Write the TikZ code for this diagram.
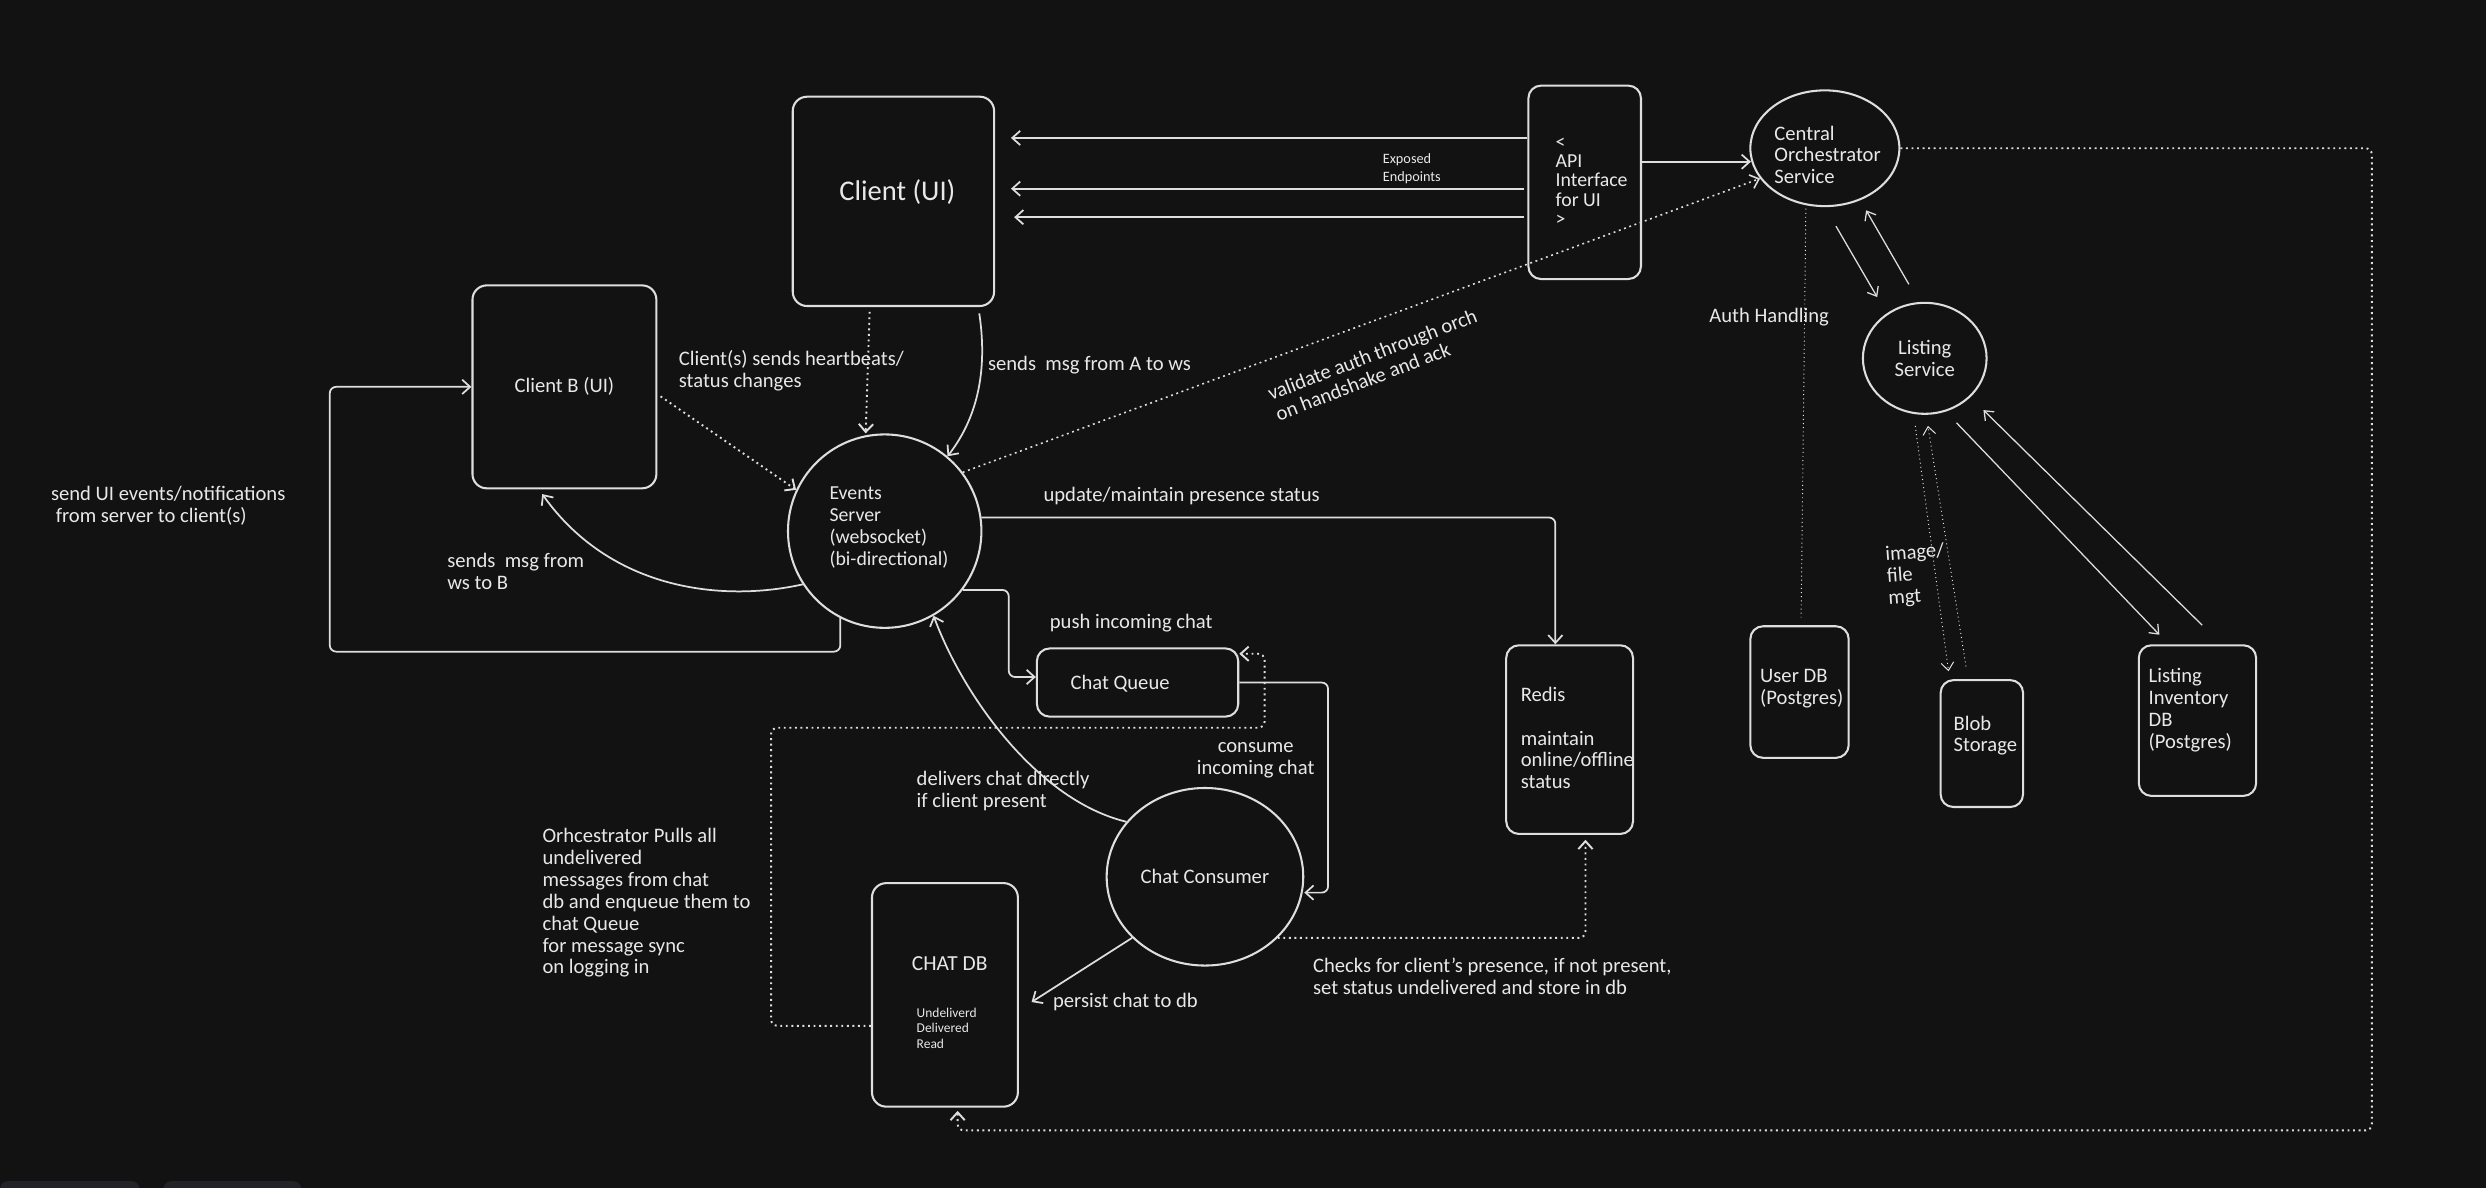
\documentclass[tikz,border=0pt]{standalone}
\usepackage{fontspec}
\setmainfont{Carlito}
\usetikzlibrary{arrows.meta,calc,shapes.geometric}
\definecolor{bgc}{HTML}{121212}
\definecolor{ink}{HTML}{DEDEDE}
\definecolor{txt}{HTML}{E8E8E8}
\definecolor{tabc}{HTML}{232228}
\begin{document}
\begin{tikzpicture}[x=1pt,y=-1pt,
 shp/.style={draw=ink, line width=1.3pt, fill=bgc, inner sep=0pt},
 rbox/.style={shp, rectangle, rounded corners=9pt},
 ell/.style={shp, ellipse},
 ntxt/.style={text=txt, align=center, font=\fontsize{13}{13.8}\selectfont},
 lbl/.style={text=txt, inner sep=0pt, font=\fontsize{13}{13.8}\selectfont, align=left},
 arr/.style={draw=ink, line width=1.1pt, -{Straight Barb[length=5pt,width=9pt]}, rounded corners=4pt},
 dotln/.style={draw=ink, line width=1.2pt, dash pattern=on 1.2pt off 2.3pt},
 darr/.style={dotln, -{Straight Barb[length=5pt,width=9pt]}, rounded corners=4pt},
 thinln/.style={draw=ink!70, line width=0.6pt, dash pattern=on 0.6pt off 2pt},
 tdarr/.style={thinln, -{Straight Barb[length=5pt,width=8pt]}},
 tarr/.style={draw=ink, line width=0.8pt, -{Straight Barb[length=5pt,width=8pt]}},
]
\fill[bgc] (0,0) rectangle (1568,749);
\useasboundingbox (0,0) rectangle (1568,749);
\fill[tabc, rounded corners=5pt] (0,745) rectangle (88,762);
\fill[tabc, rounded corners=5pt] (103,745) rectangle (190,762);

% nodes
\node[rbox, minimum width=127pt, minimum height=132pt] (clientA) at (563.5,127) {};
\node[lbl, font=\fontsize{18}{20}\selectfont] (clientAt) at (566,121) {Client (UI)};
\node[rbox, rounded corners=8pt, minimum width=71pt, minimum height=122pt] (api) at (999.5,115) {};
\node[lbl, font=\fontsize{12.5}{12.2}\selectfont, anchor=west] (apit) at (981,114.6) {<\\API\\Interface\\for UI\\>};
\node[ell, minimum width=94pt, minimum height=73pt] (orch) at (1151,93.5) {};
\node[lbl, anchor=west] (orcht) at (1119,97.7) {Central\\Orchestrator\\Service};
\node[ell, ntxt, minimum width=78pt, minimum height=70pt] (listing) at (1214,226) {Listing\\Service};
\node[rbox, ntxt, minimum width=116pt, minimum height=128pt] (clientB) at (356,244) {Client B (UI)};
\node[ell, minimum width=122pt, minimum height=122pt] (events) at (558,335) {};
\node[lbl, font=\fontsize{12.5}{13.7}\selectfont, anchor=west] (eventst) at (523,332.75) {Events\\Server\\(websocket)\\(bi-directional)};
\node[rbox, rounded corners=8pt, minimum width=127pt, minimum height=43pt] (queue) at (717.5,430.5) {};
\node[lbl, anchor=west] (queuet) at (675,431) {Chat Queue};
\node[rbox, rounded corners=8pt, minimum width=80pt, minimum height=119pt] (redis) at (990,466.5) {};
\node[lbl, anchor=west] (redist) at (959,465.5) {Redis\\[13.8pt]maintain\\online/offline\\status};
\node[rbox, rounded corners=8pt, minimum width=62pt, minimum height=83pt] (userdb) at (1135,436.5) {};
\node[lbl, anchor=west] (userdbt) at (1110,434.5) {User DB\\(Postgres)};
\node[rbox, rounded corners=8pt, minimum width=52pt, minimum height=80pt] (blob) at (1250,469) {};
\node[lbl, anchor=west] (blobt) at (1232,464) {Blob\\Storage};
\node[rbox, rounded corners=8pt, minimum width=74pt, minimum height=95pt] (lidb) at (1386,454.5) {};
\node[lbl, anchor=west] (lidbt) at (1355,448) {Listing\\Inventory\\DB\\(Postgres)};
\node[ell, ntxt, minimum width=124pt, minimum height=112pt] (consumer) at (760,553) {Chat Consumer};
\node[rbox, minimum width=92pt, minimum height=141pt] (chatdb) at (596,627.5) {};
\node[lbl, font=\fontsize{13.5}{14}\selectfont] (chatdbt) at (599,608) {CHAT DB};
\node[lbl, font=\fontsize{8.5}{9.6}\selectfont, anchor=west] (chatdbs) at (578,648.5) {Undeliverd\\Delivered\\Read};

% API -> client
\draw[arr] ($(api.west)+(0,-28)$) -- ($(clientA.east)+(10,-40)$);
\draw[arr] ($(api.west)+(-2,4)$) -- ($(clientA.east)+(10,-8)$);
\draw[arr] ($(api.west)+(-2,22)$) -- ($(clientA.east)+(12,10)$);
\node[lbl, font=\fontsize{9}{11}\selectfont, anchor=west] (exp) at (872,106.5) {Exposed\\Endpoints};
\draw[arr] ($(api.east)+(0,-13)$) -- ($(orch.west)+(1,8.5)$);

% orchestrator loop to chat db
\coordinate (loopR) at (1496,713);
\draw[darr] (orch.east) -| (loopR) -| ($(chatdb.south)+(8,2)$);

% orchestrator <-> listing
\draw[tarr] ($(orch.south)+(7,12)$) -- ($(listing.north)+(-30,-3)$);
\draw[tarr] ($(listing.north)+(-10,-11)$) -- ($(orch.south)+(26,2)$);
\draw[tarr] ($(listing.south)+(20,5)$) -- ($(lidb.north)+(-24,-6)$);
\draw[tarr] ($(lidb.north)+(3,-12)$) -- ($(listing.south)+(37,-3)$);
\draw[tdarr] ($(listing.south)+(-6,7)$) -- ($(blob.north)+(-21,-5)$);
\draw[tdarr] ($(blob.north)+(-10,-8)$) -- ($(listing.south)+(2,7)$);
\draw[thinln] ($(orch.south)+(-12,1)$) -- ($(userdb.north)+(1,-5)$);
\node[lbl, anchor=west] (auth) at (1078,200) {Auth Handling};
\node[lbl, anchor=west, rotate=4] (imgt) at (1190,364) {image/\\file\\mgt};

% events <-> orch
\draw[darr, line width=1pt] (events.37) -- (orch.205);
\node[lbl, rotate=21] (valt) at (868,230) {validate auth through orch\\on handshake and ack};

% client A -> events
\draw[darr] ($(clientA.south)+(-15,3)$) -- ($(events.north)+(-12,0)$);
\draw[arr] ($(clientA.south east)+(-10,4)$) .. controls (624,240) and (613,268) .. (events.50);
\node[lbl, anchor=west] (sendA) at (623,230) {sends\ \ msg from A to ws};

% client B -> events
\draw[darr] ($(clientB.east)+(2,6)$) -- (events.155);
\node[lbl, anchor=west] (hb) at (428,234) {Client(s) sends heartbeats/\\status changes};

% events -> client B
\draw[arr] (events.213) .. controls (455,380) and (385,372) .. ($(clientB.south)+(-14,3)$);
\node[lbl, anchor=west] (sendB) at (282,360.5) {sends\ \ msg from\\ws to B};
\coordinate (elbowL) at (208,411);
\draw[arr] (events.243) |- (elbowL) |- (clientB.west);
\node[lbl, anchor=west] (uiev) at (32,319) {send UI events/notifications\\\hspace*{3pt}from server to client(s)};

% events -> redis
\draw[arr] (events.8) -| ($(redis.north)+(-9,0)$);
\node[lbl, anchor=west] (pres) at (658,313) {update/maintain presence status};

% events -> queue
\draw[arr] (events.-37) -- ++(29,0) |- ($(queue.west)+(0,-3.5)$);
\node[lbl, anchor=west] (push) at (662,393) {push incoming chat};

% queue -> consumer
\draw[arr] (queue.east) -- ++(56,0) |- ($(consumer.east)+(0,10)$);
\node[lbl, align=center] (cons) at (792,479.5) {consume\\incoming chat};

% consumer -> events
\draw[arr] (consumer.145) .. controls (655,505) and (608,440) .. (events.-60);
\node[lbl, anchor=west] (deliv) at (578,499) {delivers chat directly\\if client present};

% consumer -> chat db
\draw[arr] (consumer.220) -- ($(chatdb.east)+(8,4.5)$);
\node[lbl, anchor=west] (persist) at (664,632) {persist chat to db};

% consumer -> redis
\draw[darr] (consumer.-40) -| ($(redis.south)+(10,3)$);
\node[lbl, anchor=west] (checks) at (828,616) {Checks for client's presence, if not present,\\set status undelivered and store in db};

% chat db -> queue
\draw[darr] ($(chatdb.west)+(0,19.5)$) -- ++(-63,0) |- ($(queue.east)+(16,28.5)$) |- ($(queue.north east)+(0,4)$);
\node[lbl, anchor=west] (pull) at (342,569.5) {Orhcestrator Pulls all\\undelivered\\messages from chat\\db and enqueue them to\\chat Queue\\for message sync\\on logging in};
\end{tikzpicture}
\end{document}
